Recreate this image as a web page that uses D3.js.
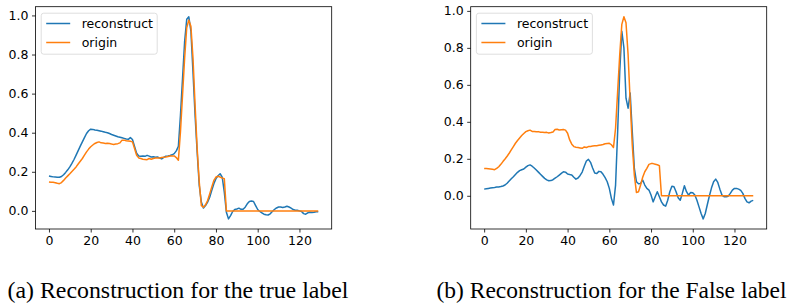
<!DOCTYPE html>
<html>
  <head>
    <title>Reconstruction</title>
    <script src="https://cdn.jsdelivr.net/npm/d3@7"></script>
    <style>
      body, html { margin: 0; padding: 0; background: white; }
    </style>
  </head>
  <body>
    <svg id="svg" width="794" height="307"></svg>
    <script>
      // series values, x is the sample index 0..129
      const reconTrue = [
        0.178, 0.176, 0.174, 0.173, 0.172, 0.172, 0.176, 0.185, 0.197, 0.210,
        0.225, 0.243, 0.263, 0.285, 0.308, 0.331, 0.353, 0.375, 0.396, 0.410,
        0.418, 0.417, 0.414, 0.412, 0.410, 0.408, 0.405, 0.402, 0.400, 0.396,
        0.391, 0.387, 0.383, 0.379, 0.377, 0.374, 0.371, 0.368, 0.366, 0.375,
        0.365, 0.330, 0.295, 0.281, 0.279, 0.281, 0.279, 0.284, 0.280, 0.276,
        0.277, 0.274, 0.276, 0.270, 0.266, 0.274, 0.280, 0.281, 0.283, 0.287,
        0.293, 0.307, 0.330, 0.490, 0.680, 0.868, 0.980, 0.993, 0.920, 0.710,
        0.490, 0.300, 0.130, 0.045, 0.015, 0.027, 0.045, 0.070, 0.105, 0.139,
        0.165, 0.180, 0.190, 0.173, 0.096, -0.007, -0.041, -0.024, -0.003, 0.007,
        0.010, 0.014, 0.008, 0.008, 0.019, 0.036, 0.048, 0.050, 0.048, 0.027,
        0.007, -0.003, -0.010, -0.017, -0.020, -0.021, -0.015, -0.003, 0.007, 0.015,
        0.020, 0.020, 0.017, 0.020, 0.024, 0.020, 0.014, 0.007, 0.003, 0.003,
        0.000, -0.003, -0.014, -0.017, -0.010, -0.007, -0.008, -0.007, -0.005, -0.005
      ];
      const originTrue = [
        0.148, 0.147, 0.146, 0.144, 0.141, 0.139, 0.145, 0.156, 0.168, 0.179,
        0.190, 0.202, 0.213, 0.225, 0.240, 0.254, 0.268, 0.285, 0.302, 0.316,
        0.328, 0.337, 0.345, 0.350, 0.353, 0.348, 0.347, 0.345, 0.346, 0.345,
        0.342, 0.340, 0.342, 0.344, 0.348, 0.362, 0.362, 0.359, 0.358, 0.356,
        0.353, 0.319, 0.285, 0.271, 0.268, 0.264, 0.263, 0.262, 0.268, 0.264,
        0.268, 0.270, 0.271, 0.271, 0.273, 0.275, 0.276, 0.278, 0.281, 0.281,
        0.281, 0.273, 0.259, 0.405, 0.593, 0.782, 0.937, 0.976, 0.945, 0.782,
        0.542, 0.319, 0.148, 0.027, 0.019, 0.031, 0.053, 0.087, 0.122, 0.156,
        0.173, 0.177, 0.173, 0.168, 0.165, 0, 0, 0, 0, 0,
        0, 0, 0, 0, 0, 0, 0, 0, 0, 0,
        0, 0, 0, 0, 0, 0, 0, 0, 0, 0,
        0, 0, 0, 0, 0, 0, 0, 0, 0, 0,
        0, 0, 0, 0, 0, 0, 0, 0, 0, 0
      ];
      const reconFalse = [
        0.036, 0.038, 0.040, 0.042, 0.044, 0.045, 0.047, 0.048, 0.050, 0.053,
        0.058, 0.068, 0.080, 0.092, 0.103, 0.115, 0.127, 0.136, 0.141, 0.145,
        0.155, 0.163, 0.167, 0.160, 0.150, 0.139, 0.128, 0.116, 0.105, 0.094,
        0.086, 0.081, 0.082, 0.087, 0.095, 0.103, 0.112, 0.121, 0.130, 0.128,
        0.118, 0.115, 0.113, 0.100, 0.090, 0.096, 0.110, 0.128, 0.160, 0.188,
        0.197, 0.181, 0.150, 0.123, 0.120, 0.132, 0.130, 0.116, 0.098, 0.076,
        0.040, -0.014, -0.050, 0.058, 0.348, 0.673, 0.890, 0.800, 0.528, 0.474,
        0.556, 0.348, 0.148, 0.076, 0.065, 0.067, 0.085, 0.058, 0.040, 0.031,
        0.004, -0.033, -0.005, 0.022, -0.005, -0.033, -0.050, -0.056, -0.024, 0.022,
        0.052, 0.049, 0.022, -0.011, -0.024, 0.013, 0.054, 0.022, 0.004, 0.018,
        0.016, 0.004, -0.024, -0.060, -0.096, -0.125, -0.096, -0.047, 0.000, 0.043,
        0.076, 0.090, 0.072, 0.036, 0.004, -0.005, -0.005, -0.002, 0.013, 0.031,
        0.040, 0.040, 0.036, 0.029, 0.013, -0.014, -0.033, -0.038, -0.029, -0.025
      ];
      const originFalse = [
        0.148, 0.147, 0.146, 0.145, 0.143, 0.141, 0.148, 0.157, 0.170, 0.185,
        0.199, 0.214, 0.230, 0.248, 0.266, 0.284, 0.299, 0.313, 0.326, 0.337,
        0.347, 0.352, 0.355, 0.348, 0.348, 0.346, 0.347, 0.344, 0.344, 0.342,
        0.343, 0.340, 0.342, 0.345, 0.358, 0.360, 0.356, 0.357, 0.358, 0.355,
        0.338, 0.302, 0.279, 0.266, 0.263, 0.261, 0.259, 0.257, 0.264, 0.261,
        0.266, 0.267, 0.269, 0.270, 0.271, 0.273, 0.275, 0.277, 0.281, 0.283,
        0.284, 0.276, 0.261, 0.366, 0.565, 0.764, 0.927, 0.968, 0.936, 0.764,
        0.510, 0.275, 0.112, 0.018, 0.022, 0.058, 0.100, 0.130, 0.148, 0.170,
        0.174, 0.174, 0.171, 0.168, 0.163, 0, 0, 0, 0, 0,
        0, 0, 0, 0, 0, 0, 0, 0, 0, 0,
        0, 0, 0, 0, 0, 0, 0, 0, 0, 0,
        0, 0, 0, 0, 0, 0, 0, 0, 0, 0,
        0, 0, 0, 0, 0, 0, 0, 0, 0, 0
      ];

      const xTicks = [0, 20, 40, 60, 80, 100, 120];
      const yTicks = [0.0, 0.2, 0.4, 0.6, 0.8, 1.0];
      const seriesNames = ["reconstruct", "origin"];
      const colors = ["#1f77b4", "#ff7f0e"];
      const captions = [
        "(a) Reconstruction for the true label",
        "(b) Reconstruction for the False label"
      ];

      const svg = d3.select("#svg");
      const tickFont = "'DejaVu Sans', sans-serif";

      // pad an extent by 5% on each side, like matplotlib does
      function padded(lo, hi) {
        const m = (hi - lo) * 0.05;
        return [lo - m, hi + m];
      }

      function drawPanel(left, right, top, bottom, series, caption, capX, capLen) {
        const n = series[0].length;
        const xscale = d3.scaleLinear()
          .domain(padded(0, n - 1))
          .range([left, right]);
        const all = series.flat();
        const yscale = d3.scaleLinear()
          .domain(padded(d3.min(all), d3.max(all)))
          .range([bottom, top]);

        const g = svg.append("g");

        const linegen = d3.line()
          .x((d, i) => xscale(i))
          .y(d => yscale(d));

        // clip lines to the axes box
        const clipId = "clip" + Math.round(left);
        svg.append("clipPath").attr("id", clipId)
          .append("rect")
          .attr("x", left).attr("y", top)
          .attr("width", right - left).attr("height", bottom - top);

        series.forEach((s, k) => {
          g.append("path")
            .attr("d", linegen(s))
            .attr("clip-path", `url(#${clipId})`)
            .attr("fill", "none")
            .attr("stroke", colors[k])
            .attr("stroke-width", 1.5)
            .attr("stroke-linejoin", "round")
            .attr("stroke-linecap", "butt");
        });

        // axes
        const bottomAxis = d3.axisBottom(xscale)
          .tickValues(xTicks)
          .tickSize(3.5)
          .tickPadding(3.5)
          .tickFormat(d3.format("d"));
        const leftAxis = d3.axisLeft(yscale)
          .tickValues(yTicks)
          .tickSize(3.5)
          .tickPadding(3.5)
          .tickFormat(d3.format(".1f"));

        const xa = g.append("g")
          .attr("transform", `translate(0, ${bottom})`)
          .call(bottomAxis);
        const ya = g.append("g")
          .attr("transform", `translate(${left}, 0)`)
          .call(leftAxis);
        [xa, ya].forEach(a => {
          a.select(".domain").remove();
          a.attr("font-family", tickFont).attr("font-size", 12.5);
          a.selectAll("line").attr("stroke", "#000").attr("stroke-width", 0.8);
          a.selectAll("text").attr("fill", "#000");
        });

        // frame
        g.append("rect")
          .attr("x", left).attr("y", top)
          .attr("width", right - left).attr("height", bottom - top)
          .attr("fill", "none")
          .attr("stroke", "#000")
          .attr("stroke-width", 0.8);

        // legend
        const lx = left + 5.7;
        const ly = top + 6.5;
        const legend = g.append("g");
        legend.append("rect")
          .attr("x", lx).attr("y", ly)
          .attr("width", 116).attr("height", 41)
          .attr("rx", 2.5)
          .attr("fill", "white")
          .attr("fill-opacity", 0.8)
          .attr("stroke", "#d6d6d6")
          .attr("stroke-width", 0.8);
        seriesNames.forEach((name, k) => {
          const yy = ly + 10.3 + k * 19;
          legend.append("line")
            .attr("x1", lx + 5).attr("x2", lx + 29)
            .attr("y1", yy).attr("y2", yy)
            .attr("stroke", colors[k])
            .attr("stroke-width", 1.5);
          legend.append("text")
            .attr("x", lx + 40.5).attr("y", yy + 4.4)
            .attr("font-family", tickFont)
            .attr("font-size", 12.5)
            .attr("fill", "#000")
            .text(name);
        });

        // caption
        svg.append("text")
          .attr("x", capX).attr("y", 298)
          .attr("font-family", "'Liberation Serif', 'Times New Roman', serif")
          .attr("font-size", 23.6)
          .attr("textLength", capLen)
          .attr("lengthAdjust", "spacingAndGlyphs")
          .attr("fill", "#000")
          .text(caption);
      }

      drawPanel(35.5, 331.7, 6.7, 229, [reconTrue, originTrue], captions[0], 7.5, 341);
      drawPanel(470.7, 766.7, 6.7, 229, [reconFalse, originFalse], captions[1], 436.5, 350);
    </script>
  </body>
</html>
